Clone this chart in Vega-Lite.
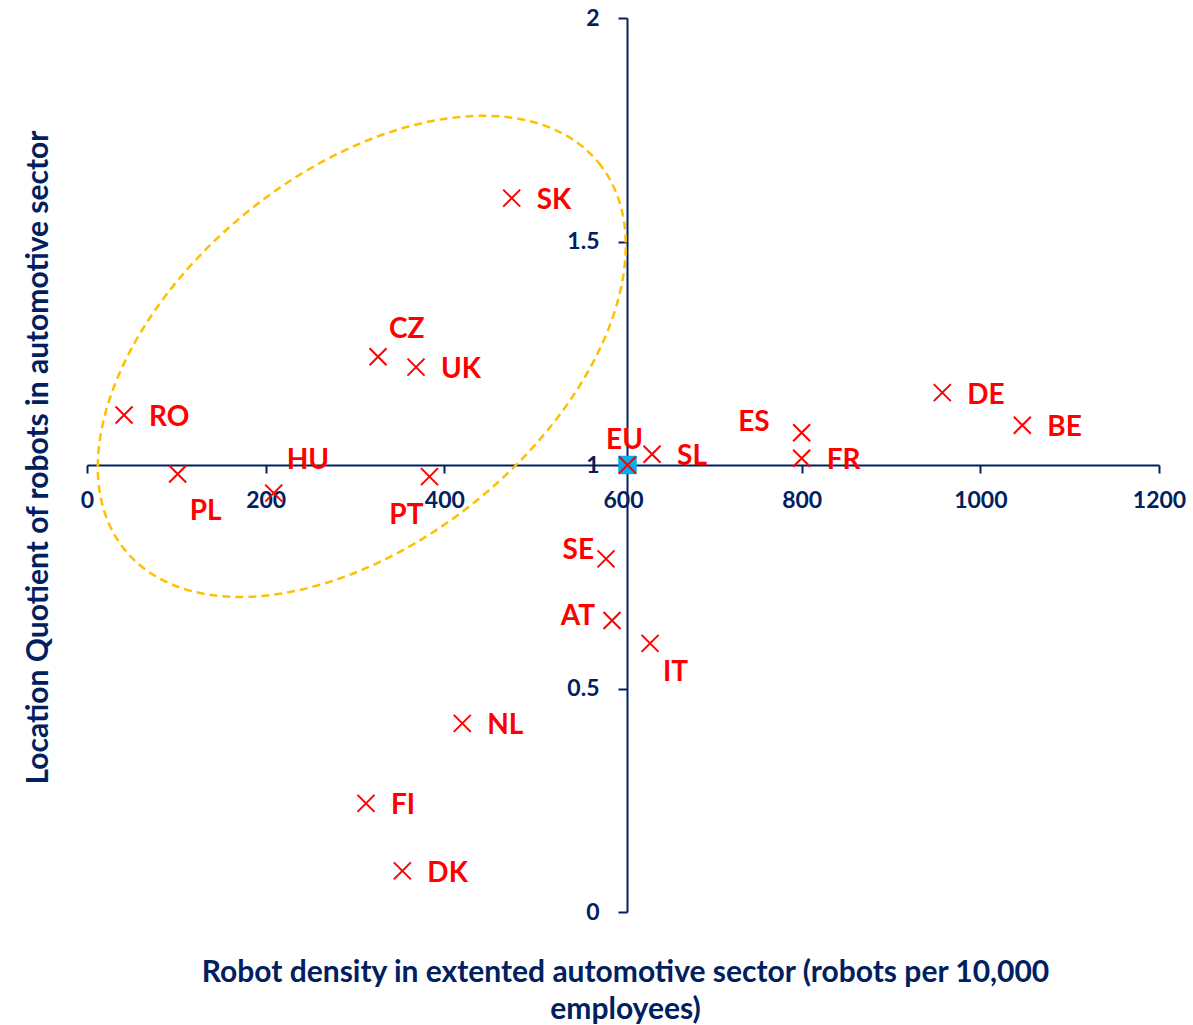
{
  "$schema": "https://vega.github.io/schema/vega-lite/v6.json",
  "width": 1072,
  "height": 894,
  "autosize": {"type": "none"},
  "padding": {"left": 87, "top": 18, "right": 34, "bottom": 113},
  "background": "white",
  "config": {
    "view": {"stroke": null},
    "font": "Lato",
    "text": {"font": "Lato"}
  },
  "datasets": {
    "countries": [
      {"code": "SK", "density": 475.4, "lq": 1.597},
      {"code": "CZ", "density": 325.8, "lq": 1.242},
      {"code": "UK", "density": 368.3, "lq": 1.219},
      {"code": "RO", "density": 41.5, "lq": 1.112},
      {"code": "PL", "density": 101.5, "lq": 0.98},
      {"code": "HU", "density": 209, "lq": 0.937},
      {"code": "PT", "density": 383.4, "lq": 0.974},
      {"code": "EU", "density": 605, "lq": 1.0},
      {"code": "SL", "density": 632.5, "lq": 1.024},
      {"code": "ES", "density": 800, "lq": 1.072},
      {"code": "FR", "density": 800, "lq": 1.015},
      {"code": "DE", "density": 957.4, "lq": 1.162},
      {"code": "BE", "density": 1047, "lq": 1.089},
      {"code": "SE", "density": 581, "lq": 0.79},
      {"code": "AT", "density": 587.7, "lq": 0.652},
      {"code": "IT", "density": 630.3, "lq": 0.601},
      {"code": "NL", "density": 420.1, "lq": 0.422},
      {"code": "FI", "density": 312.3, "lq": 0.243},
      {"code": "DK", "density": 353, "lq": 0.092}
    ],
    "cluster": [
      {"group": "low density, high LQ", "density": 307.6, "lq": 1.243}
    ]
  },
  "encoding": {
    "x": {
      "field": "density",
      "type": "quantitative",
      "scale": {"domain": [0, 1200], "nice": false, "zero": false},
      "axis": {
        "values": [0, 200, 400, 600, 800, 1000, 1200],
        "format": "d",
        "offset": -447,
        "grid": false,
        "domainColor": "#002060",
        "domainWidth": 2,
        "tickColor": "#002060",
        "tickWidth": 2,
        "tickSize": 8,
        "labelFont": "Lato",
        "labelFontSize": 23,
        "labelFontWeight": "bold",
        "labelColor": "#002060",
        "labelPadding": 16,
        "labelFlush": false,
        "labelOverlap": false,
        "title": ["Robot density in extented automotive sector (robots per 10,000", "employees)"],
        "titleFont": "Lato",
        "titleFontSize": 30,
        "titleFontWeight": "bold",
        "titleColor": "#002060",
        "titleAngle": 0,
        "titleAlign": "center",
        "titleBaseline": "alphabetic",
        "titleLineHeight": 37,
        "titleX": 538,
        "titleY": 516
      }
    },
    "y": {
      "field": "lq",
      "type": "quantitative",
      "scale": {"domain": [0, 2], "nice": false},
      "axis": {
        "values": [0, 0.5, 1, 1.5, 2],
        "format": "~g",
        "offset": -540,
        "grid": false,
        "domainColor": "#002060",
        "domainWidth": 2,
        "tickColor": "#002060",
        "tickWidth": 2,
        "tickSize": 9,
        "labelFont": "Lato",
        "labelFontSize": 23,
        "labelFontWeight": "bold",
        "labelColor": "#002060",
        "labelPadding": 19,
        "labelFlush": false,
        "labelOverlap": false,
        "title": "Location Quotient of  robots in automotive sector",
        "titleFont": "Lato",
        "titleFontSize": 30,
        "titleFontWeight": "bold",
        "titleColor": "#002060",
        "titleAngle": 270,
        "titleAlign": "center",
        "titleBaseline": "alphabetic",
        "titleX": -580,
        "titleY": 439
      }
    }
  },
  "layer": [
    {
      "data": {"name": "cluster"},
      "mark": {
        "type": "point",
        "shape": "M3.059,0C3.059,1.018,1.689,1.843,0,1.843C-1.689,1.843,-3.059,1.018,-3.059,0C-3.059,-1.018,-1.689,-1.843,0,-1.843C1.689,-1.843,3.059,-1.018,3.059,0Z",
        "size": 40000,
        "angle": -39.3,
        "filled": false,
        "stroke": "#FFC000",
        "strokeWidth": 2.5,
        "strokeDash": [8, 5],
        "opacity": 1
      }
    },
    {
      "data": {"name": "countries"},
      "transform": [{"filter": {"field": "code", "equal": "EU"}}],
      "mark": {
        "type": "point",
        "shape": "square",
        "size": 324,
        "filled": true,
        "fill": "#00B0F0",
        "stroke": "#00B0F0",
        "strokeWidth": 0.5,
        "opacity": 1
      }
    },
    {
      "data": {"name": "countries"},
      "mark": {
        "type": "point",
        "shape": "M-1,-1L1,1M1,-1L-1,1",
        "size": 289,
        "filled": false,
        "stroke": "#FF0000",
        "strokeWidth": 2,
        "opacity": 1
      }
    },
    {
      "data": {"name": "countries"},
      "transform": [{"filter": {"field": "code", "oneOf": ["SK", "UK", "RO", "SL", "FR", "DE", "BE", "NL", "FI", "DK"]}}],
      "mark": {"type": "text", "align": "left", "baseline": "middle", "dx": 25, "dy": 3, "fontSize": 28, "fontWeight": "bold", "color": "#FF0000"},
      "encoding": {"text": {"field": "code"}}
    },
    {
      "data": {"name": "countries"},
      "transform": [{"filter": {"field": "code", "equal": "CZ"}}],
      "mark": {"type": "text", "align": "left", "baseline": "middle", "dx": 11, "dy": -27, "fontSize": 28, "fontWeight": "bold", "color": "#FF0000"},
      "encoding": {"text": {"field": "code"}}
    },
    {
      "data": {"name": "countries"},
      "transform": [{"filter": {"field": "code", "equal": "HU"}}],
      "mark": {"type": "text", "align": "left", "baseline": "middle", "dx": 13, "dy": -32, "fontSize": 28, "fontWeight": "bold", "color": "#FF0000"},
      "encoding": {"text": {"field": "code"}}
    },
    {
      "data": {"name": "countries"},
      "transform": [{"filter": {"field": "code", "equal": "PL"}}],
      "mark": {"type": "text", "align": "left", "baseline": "middle", "dx": 12, "dy": 38, "fontSize": 28, "fontWeight": "bold", "color": "#FF0000"},
      "encoding": {"text": {"field": "code"}}
    },
    {
      "data": {"name": "countries"},
      "transform": [{"filter": {"field": "code", "equal": "IT"}}],
      "mark": {"type": "text", "align": "left", "baseline": "middle", "dx": 13, "dy": 30, "fontSize": 28, "fontWeight": "bold", "color": "#FF0000"},
      "encoding": {"text": {"field": "code"}}
    },
    {
      "data": {"name": "countries"},
      "transform": [{"filter": {"field": "code", "equal": "PT"}}],
      "mark": {"type": "text", "align": "right", "baseline": "middle", "dx": -6, "dy": 39, "fontSize": 28, "fontWeight": "bold", "color": "#FF0000"},
      "encoding": {"text": {"field": "code"}}
    },
    {
      "data": {"name": "countries"},
      "transform": [{"filter": {"field": "code", "equal": "EU"}}],
      "mark": {"type": "text", "align": "center", "baseline": "middle", "dx": -3, "dy": -24, "fontSize": 28, "fontWeight": "bold", "color": "#FF0000"},
      "encoding": {"text": {"field": "code"}}
    },
    {
      "data": {"name": "countries"},
      "transform": [{"filter": {"field": "code", "equal": "ES"}}],
      "mark": {"type": "text", "align": "right", "baseline": "middle", "dx": -32, "dy": -10, "fontSize": 28, "fontWeight": "bold", "color": "#FF0000"},
      "encoding": {"text": {"field": "code"}}
    },
    {
      "data": {"name": "countries"},
      "transform": [{"filter": {"field": "code", "equal": "SE"}}],
      "mark": {"type": "text", "align": "right", "baseline": "middle", "dx": -12, "dy": -8, "fontSize": 28, "fontWeight": "bold", "color": "#FF0000"},
      "encoding": {"text": {"field": "code"}}
    },
    {
      "data": {"name": "countries"},
      "transform": [{"filter": {"field": "code", "equal": "AT"}}],
      "mark": {"type": "text", "align": "right", "baseline": "middle", "dx": -17, "dy": -4, "fontSize": 28, "fontWeight": "bold", "color": "#FF0000"},
      "encoding": {"text": {"field": "code"}}
    }
  ]
}
